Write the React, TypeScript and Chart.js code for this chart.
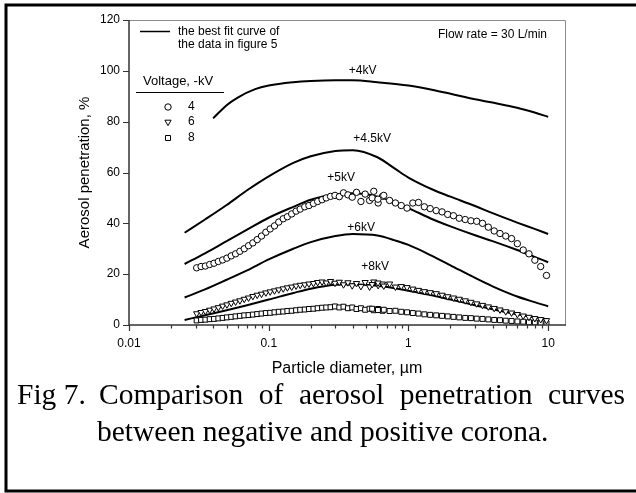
import React, { useEffect, useRef } from 'react';
import { Chart, registerables } from 'chart.js';

Chart.register(...registerables);

// ---------- data ----------
const measuredDiameters = [
  0.0305, 0.0328, 0.0352, 0.0378, 0.0406, 0.0436, 0.0468, 0.0502, 0.0539, 0.0579,
  0.0622, 0.0668, 0.0717, 0.077, 0.0827, 0.0888, 0.0954, 0.1024, 0.11, 0.118,
  0.127, 0.136, 0.146, 0.157, 0.168, 0.181, 0.194, 0.209, 0.224, 0.241,
  0.258, 0.277, 0.298, 0.32, 0.343, 0.369, 0.396, 0.425, 0.457, 0.49,
  0.527, 0.565, 0.607, 0.652,
  0.55, 0.605, 0.666, 0.733, 0.807, 0.888, 0.977, 1.075, 1.18, 1.3,
  1.43, 1.58, 1.74, 1.91, 2.1, 2.31, 2.55, 2.8, 3.08, 3.39,
  3.73, 4.11, 4.52, 4.97, 5.47, 6.02, 6.63, 7.29, 8.03, 8.84, 9.73,
];

const negative4kV = [
  22.5, 23.0, 23.2, 23.8, 24.3, 25.0, 25.6, 26.3, 27.2, 28.0,
  29.0, 30.0, 31.2, 32.3, 33.6, 35.0, 36.5, 37.8, 39.0, 40.5,
  41.8, 42.6, 43.7, 44.8, 45.6, 46.5, 47.0, 47.8, 48.6, 49.3,
  50.0, 50.6, 51.0, 50.5, 52.0, 51.2, 50.3, 52.2, 48.6, 51.5,
  49.0, 52.6, 48.0, 50.6,
  50.0, 49.5, 51.0, 49.0, 48.0, 47.0, 46.0, 48.0, 48.2, 46.5,
  45.8, 45.0, 44.5, 43.5, 43.0, 42.0, 41.5, 41.0, 40.8, 40.0,
  38.5, 37.0, 36.0, 35.0, 34.0, 32.0, 29.5, 28.0, 25.5, 23.0, 19.5,
];

const negative6kV = [
  4.5, 5.0, 5.4, 5.9, 6.4, 6.9, 7.5, 8.0, 8.6, 9.1,
  9.6, 10.2, 10.7, 11.3, 11.8, 12.2, 12.7, 13.1, 13.5, 13.9,
  14.3, 14.7, 15.0, 15.4, 15.7, 15.9, 16.2, 16.4, 16.8, 17.0,
  16.6, 17.2, 16.5, 16.9, 15.9, 16.7, 15.5, 16.4, 15.2, 16.8,
  15.0, 17.0, 15.6, 16.2,
  16.0, 16.6, 15.4, 16.2, 15.0, 15.2, 14.8, 14.2, 13.7, 13.2,
  12.8, 12.4, 11.8, 11.2, 10.7, 10.2, 9.6, 9.0, 8.4, 7.8,
  7.2, 6.6, 6.0, 5.3, 4.8, 4.2, 3.6, 3.1, 2.6, 2.2, 1.8,
];

const negative8kV = [
  1.8, 2.0, 2.1, 2.3, 2.4, 2.6, 2.8, 3.0, 3.2, 3.4,
  3.6, 3.8, 3.9, 4.1, 4.3, 4.5, 4.7, 4.8, 5.0, 5.2,
  5.3, 5.5, 5.6, 5.8, 6.0, 6.1, 6.3, 6.4, 6.6, 6.8,
  6.9, 7.0, 7.3, 6.9, 7.2, 6.6, 6.9, 6.3, 6.6, 6.0,
  6.4, 5.8, 6.3, 5.6,
  6.4, 5.9, 6.0, 5.5, 5.6, 5.2, 5.0, 4.7, 4.5, 4.2,
  4.0, 3.8, 3.6, 3.4, 3.2, 3.0, 2.8, 2.7, 2.5, 2.4,
  2.2, 2.0, 1.9, 1.7, 1.6, 1.4, 1.3, 1.1, 1.0, 0.8, 0.7,
];

const fitDiameters = [0.025, 0.035, 0.05, 0.07, 0.1, 0.15, 0.2, 0.3, 0.4, 0.6, 0.8, 1, 1.5, 2, 3, 4, 6, 8, 10];
const fit4kVDiameters = [0.04, 0.05, 0.06, 0.08, 0.1, 0.15, 0.2, 0.3, 0.4, 0.6, 1, 1.5, 2, 3, 4, 6, 8, 10];

const fitPositive4kV = [81.3, 86.5, 89.5, 92.8, 94.2, 95.5, 96.0, 96.3, 96.3, 95.5, 94.2, 92.5, 91.0, 88.8, 87.5, 85.5, 83.6, 81.9];
const fitPositive45kV = [36.3, 41.5, 47.2, 53.0, 58.5, 63.8, 66.4, 68.5, 68.8, 66.0, 61.5, 58.0, 53.2, 50.5, 46.8, 44.0, 40.3, 37.8, 35.8];
const fitPositive5kV = [24.0, 28.2, 33.0, 37.5, 42.2, 46.5, 49.3, 51.3, 51.8, 50.5, 48.2, 46.0, 41.5, 38.8, 35.3, 33.0, 29.5, 26.8, 24.7];
const fitPositive6kV = [10.8, 14.0, 17.8, 21.5, 25.8, 30.0, 32.6, 35.0, 35.8, 35.2, 33.3, 31.5, 27.0, 23.5, 18.5, 15.2, 11.2, 9.0, 7.4];
const fitPositive8kV = [2.0, 3.8, 5.8, 7.8, 10.0, 12.6, 14.3, 15.8, 16.0, 15.4, 14.5, 13.5, 11.6, 10.0, 7.8, 6.2, 4.2, 3.0, 2.2];

const xTickValues = [0.01, 0.1, 1, 10];
const xTickLabels = ['0.01', '0.1', '1', '10'];

const curveLabels = ['+4kV', '+4.5kV', '+5kV', '+6kV', '+8kV'];
const curveLabelDiameters = [0.47, 0.55, 0.33, 0.458, 0.577];
const curveLabelValues = [100, 73.2, 57.8, 38.2, 22.8];

const legendVoltages = ['4', '6', '8'];

const captionLabel = 'Fig 7.';
const captionLine1 = 'Comparison of aerosol penetration curves';
const captionLine2 = 'between negative and positive corona.';

// ---------- helpers ----------
const toPoints = (xs: number[], ys: number[]) => xs.map((x, i) => ({ x, y: ys[i] }));

const SANS = '"Liberation Sans", Arial, Helvetica, sans-serif';
const SERIF = '"Liberation Serif", "Times New Roman", Times, serif';

function drawMarker(ctx: CanvasRenderingContext2D, kind: string, x: number, y: number) {
  ctx.beginPath();
  if (kind === 'circle') {
    ctx.arc(x, y, 3.2, 0, Math.PI * 2);
  } else if (kind === 'triangle') {
    const r = 3.6;
    ctx.moveTo(x, y + r);
    ctx.lineTo(x - r * 0.866, y - r * 0.5);
    ctx.lineTo(x + r * 0.866, y - r * 0.5);
    ctx.closePath();
  } else {
    ctx.rect(x - 2.5, y - 2.5, 5, 5);
  }
  ctx.fillStyle = '#fff';
  ctx.fill();
  ctx.strokeStyle = '#000';
  ctx.lineWidth = 1;
  ctx.stroke();
}

// justified caption line (hanging indent after the figure label)
function drawJustified(ctx: CanvasRenderingContext2D, text: string, left: number, right: number, y: number) {
  const words = text.split(' ');
  const widths = words.map((w) => ctx.measureText(w).width);
  const total = widths.reduce((s, w) => s + w, 0);
  const gap = words.length > 1 ? (right - left - total) / (words.length - 1) : 0;
  let x = left;
  words.forEach((w, i) => {
    ctx.fillText(w, x, y);
    x += widths[i] + gap;
  });
}

const decorPlugin = {
  id: 'decor',
  beforeDraw(chart: any) {
    const { ctx, width, height } = chart;
    ctx.save();
    ctx.fillStyle = '#fff';
    ctx.fillRect(0, 0, width, height);
    ctx.restore();
  },
  afterDraw(chart: any) {
    const { ctx, chartArea: a, scales } = chart;
    const xs = scales.x;
    const ys = scales.y;
    ctx.save();

    // plot frame
    ctx.strokeStyle = '#8c8c8c';
    ctx.lineWidth = 1;
    ctx.beginPath();
    ctx.moveTo(a.left, a.top + 0.5);
    ctx.lineTo(a.right + 0.5, a.top + 0.5);
    ctx.lineTo(a.right + 0.5, a.bottom);
    ctx.stroke();

    ctx.strokeStyle = '#333';
    ctx.lineWidth = 1.5;
    ctx.beginPath();
    ctx.moveTo(a.left, a.top);
    ctx.lineTo(a.left, a.bottom);
    ctx.lineTo(a.right + 1, a.bottom);
    ctx.stroke();

    // y ticks
    ctx.lineWidth = 1.2;
    ctx.beginPath();
    for (const t of ys.ticks) {
      const y = Math.round(ys.getPixelForValue(t.value)) + 0.5;
      ctx.moveTo(a.left - 6, y);
      ctx.lineTo(a.left, y);
    }
    ctx.stroke();

    // x ticks (major + minor)
    ctx.beginPath();
    for (const t of xs.ticks) {
      const v = t.value;
      const e = Math.floor(Math.log10(v) + 1e-9);
      const sig = v / Math.pow(10, e);
      if (Math.abs(sig - Math.round(sig)) > 1e-6) continue;
      const x = Math.round(xs.getPixelForValue(v)) + 0.5;
      const major = Math.round(sig) === 1;
      ctx.moveTo(x, a.bottom);
      ctx.lineTo(x, a.bottom + (major ? 6 : 3.5));
    }
    ctx.stroke();

    // axis titles
    ctx.fillStyle = '#000';
    ctx.textAlign = 'center';
    ctx.textBaseline = 'middle';
    ctx.font = `16px ${SANS}`;
    ctx.fillText('Particle diameter, \u00b5m', (a.left + a.right) / 2, 369);
    ctx.font = `15px ${SANS}`;
    ctx.save();
    ctx.translate(85, (a.top + a.bottom) / 2);
    ctx.rotate(-Math.PI / 2);
    ctx.fillText('Aerosol penetration, %', 0, 0);
    ctx.restore();

    // curve annotations
    ctx.font = `12px ${SANS}`;
    curveLabels.forEach((label, i) => {
      ctx.fillText(label, xs.getPixelForValue(curveLabelDiameters[i]), ys.getPixelForValue(curveLabelValues[i]));
    });

    // legend: fit curve
    ctx.strokeStyle = '#000';
    ctx.lineWidth = 1.5;
    ctx.beginPath();
    ctx.moveTo(140, 31.5);
    ctx.lineTo(170, 31.5);
    ctx.stroke();
    ctx.font = `12px ${SANS}`;
    ctx.textAlign = 'left';
    ctx.fillText('the best fit curve of', 178, 32);
    ctx.fillText('the data in figure 5', 178, 45);

    // legend: voltages
    ctx.font = `13px ${SANS}`;
    ctx.fillText('Voltage, -kV', 143, 81);
    ctx.lineWidth = 1;
    ctx.beginPath();
    ctx.moveTo(136, 92.5);
    ctx.lineTo(224, 92.5);
    ctx.stroke();
    const kinds = ['circle', 'triangle', 'rect'];
    const rows = [107, 122, 138];
    legendVoltages.forEach((v, i) => {
      drawMarker(ctx, kinds[i], 168, rows[i]);
      ctx.fillStyle = '#000';
      ctx.font = `12px ${SANS}`;
      ctx.textAlign = 'left';
      ctx.textBaseline = 'middle';
      ctx.fillText(v, 188, rows[i]);
    });

    // flow rate note
    ctx.font = `12px ${SANS}`;
    ctx.textAlign = 'right';
    ctx.fillText('Flow rate = 30 L/min', 547, 35);

    // caption
    ctx.font = `29.5px ${SERIF}`;
    ctx.textAlign = 'left';
    ctx.textBaseline = 'alphabetic';
    ctx.fillText(captionLabel, 17, 404);
    drawJustified(ctx, captionLine1, 99, 625, 404);
    ctx.fillText(captionLine2, 97, 441);

    // outer border
    ctx.strokeStyle = '#000';
    ctx.lineWidth = 3;
    ctx.strokeRect(6, 5, 640, 486);

    ctx.restore();
  },
};

export default function App() {
  const ref = useRef<HTMLCanvasElement>(null);

  useEffect(() => {
    const canvas = ref.current;
    if (!canvas) return;

    const fitStyle = {
      showLine: true,
      borderColor: '#000',
      borderWidth: 2,
      pointRadius: 0,
      cubicInterpolationMode: 'monotone' as const,
      fill: false,
    };
    const markerStyle = {
      showLine: false,
      borderColor: '#000',
      backgroundColor: '#fff',
      borderWidth: 1,
    };

    const chart = new Chart(canvas, {
      type: 'scatter',
      data: {
        datasets: [
          { ...markerStyle, label: '4', data: toPoints(measuredDiameters, negative4kV), pointStyle: 'circle', pointRadius: 3.2 },
          { ...markerStyle, label: '6', data: toPoints(measuredDiameters, negative6kV), pointStyle: 'triangle', pointRotation: 180, pointRadius: 3.6 },
          { ...markerStyle, label: '8', data: toPoints(measuredDiameters, negative8kV), pointStyle: 'rect', pointRadius: 3.5 },
          { ...fitStyle, label: '+4kV', data: toPoints(fit4kVDiameters, fitPositive4kV) },
          { ...fitStyle, label: '+4.5kV', data: toPoints(fitDiameters, fitPositive45kV) },
          { ...fitStyle, label: '+5kV', data: toPoints(fitDiameters, fitPositive5kV) },
          { ...fitStyle, label: '+6kV', data: toPoints(fitDiameters, fitPositive6kV) },
          { ...fitStyle, label: '+8kV', data: toPoints(fitDiameters, fitPositive8kV) },
        ] as any,
      },
      options: {
        animation: false,
        responsive: false,
        devicePixelRatio: 1,
        events: [],
        layout: { padding: { left: 0, top: 20, right: 71, bottom: 0 } },
        plugins: { legend: { display: false }, tooltip: { enabled: false } },
        scales: {
          x: {
            type: 'logarithmic',
            min: 0.01,
            max: 13.2,
            grid: { drawOnChartArea: false, drawTicks: true, tickLength: 6, color: 'rgba(0,0,0,0)' },
            border: { display: false },
            ticks: {
              autoSkip: false,
              maxRotation: 0,
              minRotation: 0,
              padding: 5,
              color: '#000',
              font: { family: SANS, size: 12 },
              callback: (value: any) => {
                const v = Number(value);
                const idx = xTickValues.findIndex((t) => Math.abs(Math.log10(v) - Math.log10(t)) < 1e-6);
                return idx >= 0 ? xTickLabels[idx] : '';
              },
            },
            afterFit: (s: any) => {
              s.height = 168;
            },
          },
          y: {
            type: 'linear',
            min: 0,
            max: 120,
            grid: { drawOnChartArea: false, drawTicks: true, tickLength: 6, color: 'rgba(0,0,0,0)' },
            border: { display: false },
            ticks: {
              stepSize: 20,
              padding: 3,
              color: '#000',
              font: { family: SANS, size: 12 },
            },
            afterFit: (s: any) => {
              s.width = 129;
            },
          },
        },
      } as any,
      plugins: [decorPlugin],
    });

    return () => chart.destroy();
  }, []);

  return (
    <div style={{ position: 'fixed', left: 0, top: 0, width: 636, height: 493, background: '#fff' }}>
      <canvas ref={ref} width={636} height={493} style={{ display: 'block', width: 636, height: 493 }} />
    </div>
  );
}
